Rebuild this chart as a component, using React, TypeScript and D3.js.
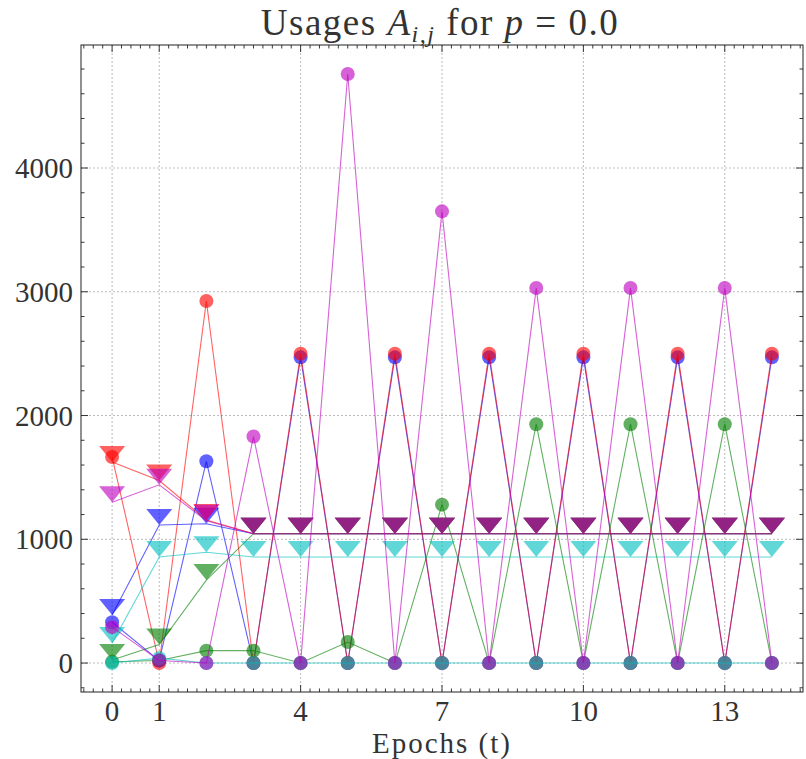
import React from "react";
import * as d3 from "d3";

const epochs = [0, 1, 2, 3, 4, 5, 6, 7, 8, 9, 10, 11, 12, 13, 14];
const xTickValues = [0, 1, 4, 7, 10, 13];
const yTickValues = [0, 1000, 2000, 3000, 4000];

// circle series (usage per epoch)
const blueUsage = [330, 20, 1630, 0, 2470, 0, 2470, 0, 2470, 0, 2470, 0, 2470, 0, 2470];
const redUsage = [1665, 0, 2925, 0, 2500, 0, 2500, 0, 2500, 0, 2500, 0, 2500, 0, 2500];
const greenUsage = [10, 20, 100, 100, 0, 170, 0, 1280, 0, 1930, 0, 1930, 0, 1930, 0];
const cyanUsage = [0, 40, 0, 0, 0, 0, 0, 0, 0, 0, 0, 0, 0, 0, 0];
const magentaUsage = [290, 20, 0, 1830, 0, 4760, 0, 3650, 0, 3030, 0, 3030, 0, 3030, 0];

// triangle series
const blueTri = [388, 1115, 1125, 1045, 1045, 1045, 1045, 1045, 1045, 1045, 1045, 1045, 1045, 1045, 1045];
const redTri = [1624, 1475, 1155, 1045, 1045, 1045, 1045, 1045, 1045, 1045, 1045, 1045, 1045, 1045, 1045];
const greenTri = [24, 150, 670, 1045, 1045, 1045, 1045, 1045, 1045, 1045, 1045, 1045, 1045, 1045, 1045];
const cyanTri = [162, 857, 895, 857, 857, 857, 857, 857, 857, 857, 857, 857, 857, 857, 857];
const magentaTri = [1300, 1440, 1150, 1045, 1045, 1045, 1045, 1045, 1045, 1045, 1045, 1045, 1045, 1045, 1045];

const seriesColors = ["rgb(0,0,255)", "rgb(255,0,0)", "rgb(0,128,0)", "rgb(0,191,191)", "rgb(191,0,191)"];
const usageSeries = [blueUsage, redUsage, greenUsage, cyanUsage, magentaUsage];
const triSeries = [blueTri, redTri, greenTri, cyanTri, magentaTri];

const W = 806;
const H = 759;
const L = 81, R = 803, T = 45, B = 692;

export default function App() {
  const x = d3.scaleLinear().domain([-0.66, 14.66]).range([L, R]);
  const y = d3.scaleLinear().domain([-234, 4994]).range([B, T]);
  const line = d3
    .line<number>()
    .x((_, i) => x(epochs[i]))
    .y((d) => y(d));

  const xMinor: number[] = [];
  for (let k = -3; k <= 73; k++) {
    const v = k / 5;
    if (x(v) > L + 0.5 && x(v) < R - 0.5 && !xTickValues.includes(v)) xMinor.push(v);
  }
  const yMinor: number[] = [];
  for (let v = -200; v <= 4800; v += 200) {
    if (!yTickValues.includes(v)) yMinor.push(v);
  }

  const font = "'Liberation Serif', 'DejaVu Serif', serif";
  const alpha = 0.62;
  const triW = 26, triH = 16;

  return (
    <svg width={W} height={H} style={{ position: "absolute", left: 0, top: 0, background: "#fff" }}>
      <rect x={0} y={0} width={W} height={H} fill="#fff" />
      {/* grid */}
      <g stroke="#aaa" strokeWidth={0.8} strokeDasharray="2,2">
        {xTickValues.map((v) => (
          <line key={"gx" + v} x1={x(v)} x2={x(v)} y1={T} y2={B} />
        ))}
        {yTickValues.map((v) => (
          <line key={"gy" + v} x1={L} x2={R} y1={y(v)} y2={y(v)} />
        ))}
      </g>
      {/* series */}
      {seriesColors.map((c, si) => (
        <g key={"s" + si}>
          <path d={line(usageSeries[si]) || ""} fill="none" stroke={c} strokeOpacity={alpha} strokeWidth={1.1} />
          {usageSeries[si].map((v, i) => (
            <circle key={"c" + i} cx={x(epochs[i])} cy={y(v)} r={7} fill={c} fillOpacity={alpha} />
          ))}
          <path d={line(triSeries[si]) || ""} fill="none" stroke={c} strokeOpacity={alpha} strokeWidth={1.1} />
          {triSeries[si].map((v, i) => {
            const cx = x(epochs[i]);
            const cy = y(v);
            return (
              <path
                key={"t" + i}
                d={`M${cx},${cy} L${cx - triW / 2},${cy - triH} L${cx + triW / 2},${cy - triH} Z`}
                fill={c}
                fillOpacity={alpha}
              />
            );
          })}
        </g>
      ))}
      {/* frame */}
      <rect x={L} y={T} width={R - L} height={B - T} fill="none" stroke="#222" strokeWidth={1} />
      {/* ticks */}
      <g stroke="#222" strokeWidth={0.9}>
        {xTickValues.map((v) => (
          <g key={"xt" + v}>
            <line x1={x(v)} x2={x(v)} y1={B} y2={B - 7} />
            <line x1={x(v)} x2={x(v)} y1={T} y2={T + 7} />
          </g>
        ))}
        {xMinor.map((v) => (
          <g key={"xm" + v}>
            <line x1={x(v)} x2={x(v)} y1={B} y2={B - 3.5} />
            <line x1={x(v)} x2={x(v)} y1={T} y2={T + 3.5} />
          </g>
        ))}
        {yTickValues.map((v) => (
          <g key={"yt" + v}>
            <line x1={L} x2={L + 7} y1={y(v)} y2={y(v)} />
            <line x1={R} x2={R - 7} y1={y(v)} y2={y(v)} />
          </g>
        ))}
        {yMinor.map((v) => (
          <g key={"ym" + v}>
            <line x1={L} x2={L + 3.5} y1={y(v)} y2={y(v)} />
            <line x1={R} x2={R - 3.5} y1={y(v)} y2={y(v)} />
          </g>
        ))}
      </g>
      {/* tick labels */}
      <g fontFamily={font} fontSize={29} fill="#333">
        {xTickValues.map((v) => (
          <text key={"xl" + v} x={x(v)} y={721} textAnchor="middle">
            {v}
          </text>
        ))}
        {yTickValues.map((v) => (
          <text key={"yl" + v} x={73} y={y(v) + 10} textAnchor="end">
            {v}
          </text>
        ))}
      </g>
      <text x={(L + R) / 2} y={753} textAnchor="middle" fontFamily={font} fontSize={29} letterSpacing={2} fill="#333">
        Epochs (t)
      </text>
      <text x={(L + R) / 2 - 2} y={35} textAnchor="middle" fontFamily={font} fontSize={37} letterSpacing={1.5} fill="#333">
        Usages <tspan fontStyle="italic">A</tspan>
        <tspan fontStyle="italic" fontSize={24} dy={7}>i,j</tspan>
        <tspan dy={-7}> for </tspan>
        <tspan fontStyle="italic">p</tspan>
        <tspan> = 0.0</tspan>
      </text>
    </svg>
  );
}
